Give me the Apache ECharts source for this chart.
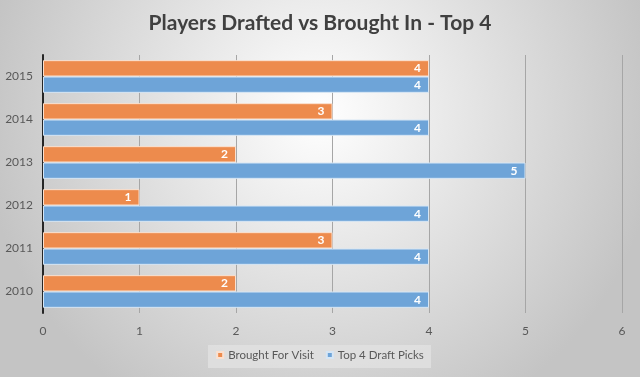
<!DOCTYPE html>
<html>
<head>
<meta charset="utf-8">
<script src="https://cdn.jsdelivr.net/npm/echarts@6/dist/echarts.min.js"></script>
<style>
html,body{margin:0;padding:0;}
#chart{width:640px;height:377px;}
</style>
</head>
<body>
<div id="chart"></div>
<script>
var years = ['2010', '2011', '2012', '2013', '2014', '2015'];
var broughtForVisit = [2, 3, 1, 2, 3, 4];
var top4DraftPicks = [4, 4, 4, 5, 4, 4];
var xTicks = [0, 1, 2, 3, 4, 5, 6];

var font = 'Lato, "Open Sans", sans-serif';

var barLabel = {
    show: true,
    position: 'insideRight',
    color: '#fff',
    fontWeight: 'bold',
    fontSize: 12,
    fontFamily: font,
    distance: 8
};

var option = {
    backgroundColor: new echarts.graphic.RadialGradient(0.5, 0.3, 0.9, [
        {offset: 0, color: '#ffffff'},
        {offset: 1, color: '#c4c4c4'}
    ]),
    animation: false,
    title: {
        text: 'Players Drafted vs Brought In - Top 4',
        left: 'center',
        top: 8,
        textStyle: {
            color: '#404040',
            fontSize: 21,
            fontWeight: 'bold',
            fontFamily: font
        }
    },
    graphic: [{
        type: 'rect',
        left: 208,
        top: 345,
        shape: {width: 223, height: 23},
        style: {fill: 'rgba(225,225,225,0.85)'},
        silent: true
    }],
    legend: {
        bottom: 11,
        left: 'center',
        itemWidth: 6,
        itemHeight: 6,
        itemGap: 12,
        icon: 'rect',
        data: ['Brought For Visit', 'Top 4 Draft Picks'],
        textStyle: {color: '#595959', fontSize: 11.5, fontFamily: font}
    },
    grid: {
        left: 43,
        right: 18,
        top: 55,
        bottom: 64
    },
    xAxis: {
        type: 'value',
        min: 0,
        max: 6,
        interval: 1,
        axisLine: {show: false},
        axisTick: {show: false},
        axisLabel: {
            color: '#595959',
            fontSize: 12,
            fontFamily: font,
            margin: 12,
            formatter: function (v) { return xTicks.indexOf(v) >= 0 ? String(v) : ''; }
        },
        splitLine: {show: true, lineStyle: {color: '#a6a6a6', width: 1}}
    },
    yAxis: {
        type: 'category',
        data: years,
        axisLine: {show: true, lineStyle: {color: '#262626', width: 2}},
        axisTick: {show: false},
        axisLabel: {color: '#595959', fontSize: 12, fontFamily: font, margin: 10}
    },
    series: [
        {
            name: 'Brought For Visit',
            type: 'bar',
            data: broughtForVisit,
            barGap: '0%',
            barCategoryGap: '24%',
            itemStyle: {color: '#ed8b4d', borderColor: '#fbe0cf', borderWidth: 1},
            label: barLabel
        },
        {
            name: 'Top 4 Draft Picks',
            type: 'bar',
            data: top4DraftPicks,
            barGap: '0%',
            barCategoryGap: '24%',
            itemStyle: {color: '#6ea4d8', borderColor: '#d6e6f5', borderWidth: 1},
            label: barLabel
        }
    ]
};

echarts.init(document.getElementById('chart')).setOption(option);
</script>
</body>
</html>
